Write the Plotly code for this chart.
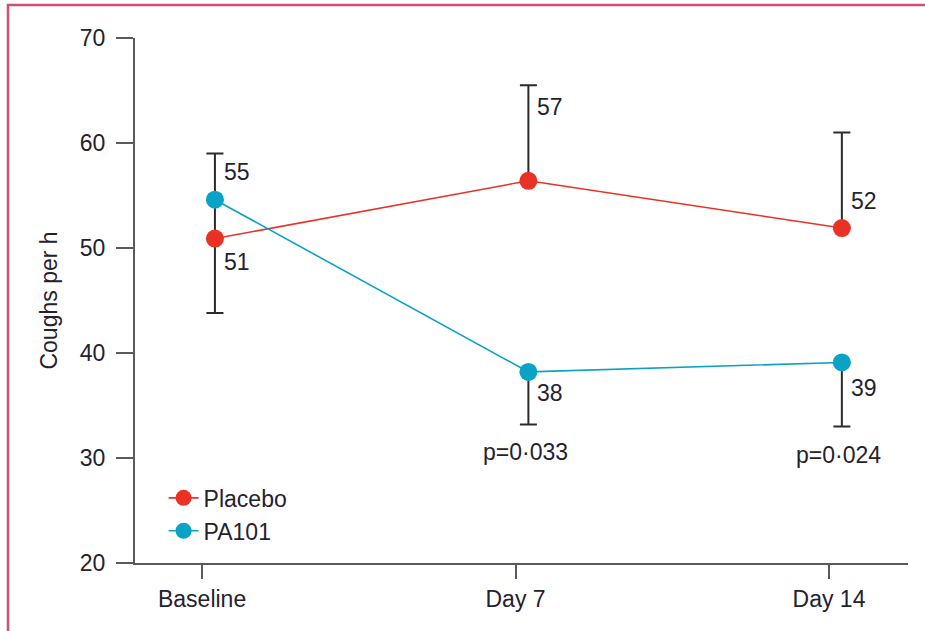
import plotly.graph_objects as go

# ---- data ----
categories = ["Baseline", "Day 7", "Day 14"]
placebo_mean = [50.9, 56.4, 51.9]
placebo_err_up = [8.1, 9.1, 9.1]
placebo_err_down = [7.1, 0.0, 0.0]
pa101_mean = [54.6, 38.2, 39.1]
pa101_err_up = [0.0, 0.0, 0.0]
pa101_err_down = [0.0, 5.0, 6.1]
placebo_labels = ["51", "57", "52"]
pa101_labels = ["55", "38", "39"]
p_labels = ["", "p=0·033", "p=0·024"]
y_ticks = [20, 30, 40, 50, 60, 70]

# ---- styling ----
FONT = "Liberation Sans"
TXT = "#24222e"
RED = "#ea3126"
CYAN = "#0aa3c6"
AXC = "#5a5a5a"
placebo_label_shift = [-23, 74, 27]
pa101_label_shift = [28, -21, -26]

fig = go.Figure()
fig.add_trace(go.Scatter(
    x=categories, y=placebo_mean, name="Placebo", mode="lines+markers",
    line=dict(color=RED, width=1.6), marker=dict(color=RED, size=18),
    error_y=dict(type="data", symmetric=False, array=placebo_err_up,
                 arrayminus=placebo_err_down, color="#2b2b2b", thickness=2, width=8.5),
))
fig.add_trace(go.Scatter(
    x=categories, y=pa101_mean, name="PA101", mode="lines+markers",
    line=dict(color=CYAN, width=1.6), marker=dict(color=CYAN, size=18),
    error_y=dict(type="data", symmetric=False, array=pa101_err_up,
                 arrayminus=pa101_err_down, color="#2b2b2b", thickness=2, width=8.5),
))

ann = []
for c, v, t, s in zip(categories, placebo_mean, placebo_labels, placebo_label_shift):
    ann.append(dict(x=c, y=v, text=t, showarrow=False, xanchor="left", yanchor="middle",
                    xshift=7, yshift=s, font=dict(family=FONT, size=23, color=TXT)))
for c, v, t, s in zip(categories, pa101_mean, pa101_labels, pa101_label_shift):
    ann.append(dict(x=c, y=v, text=t, showarrow=False, xanchor="left", yanchor="middle",
                    xshift=7, yshift=s, font=dict(family=FONT, size=23, color=TXT)))
for c, v, d, t in zip(categories, pa101_mean, pa101_err_down, p_labels):
    if t:
        ann.append(dict(x=c, y=v - d, text=t, showarrow=False, xanchor="center", yanchor="middle",
                        xshift=-3, yshift=-28, font=dict(family=FONT, size=23, color=TXT)))

fig.update_layout(
    width=925, height=631,
    margin=dict(l=135, r=17, t=38, b=68),
    paper_bgcolor="white", plot_bgcolor="white",
    font=dict(family=FONT, size=23, color=TXT),
    showlegend=True,
    legend=dict(x=0.037, y=0.165, xanchor="left", yanchor="top", bgcolor="rgba(0,0,0,0)",
                font=dict(family=FONT, size=23, color=TXT), tracegroupgap=0),
    xaxis=dict(type="category", categoryarray=categories, range=[-0.255, 2.211],
               visible=False, fixedrange=True),
    xaxis2=dict(overlaying="x", anchor="y", side="bottom", range=[-0.214, 2.252],
                tickmode="array", tickvals=list(range(len(categories))), ticktext=categories,
                showline=True, linecolor=AXC, linewidth=2, ticks="outside", ticklen=14,
                tickwidth=2, tickcolor=AXC, showgrid=False, zeroline=False,
                tickfont=dict(family=FONT, size=23, color=TXT)),
    yaxis=dict(range=[20, 70], tickvals=y_ticks, showline=True, linecolor=AXC, linewidth=2,
               ticks="outside", ticklen=17, tickwidth=2, tickcolor=AXC, showgrid=False,
               zeroline=False, ticklabelstandoff=6,
               tickfont=dict(family=FONT, size=23, color=TXT),
               title=dict(text="Coughs per h", font=dict(family=FONT, size=23, color=TXT), standoff=16)),
    annotations=ann,
    shapes=[dict(type="rect", xref="paper", yref="paper", x0=-0.1643, x1=1.2, y0=-0.3, y1=1.0629,
                 line=dict(color="#cf4f74", width=2.5), layer="above")],
)
# dummy trace to activate xaxis2
fig.add_trace(go.Scatter(x=[0], y=[None], xaxis="x2", showlegend=False, hoverinfo="skip"))

fig.write_html("out.html")
